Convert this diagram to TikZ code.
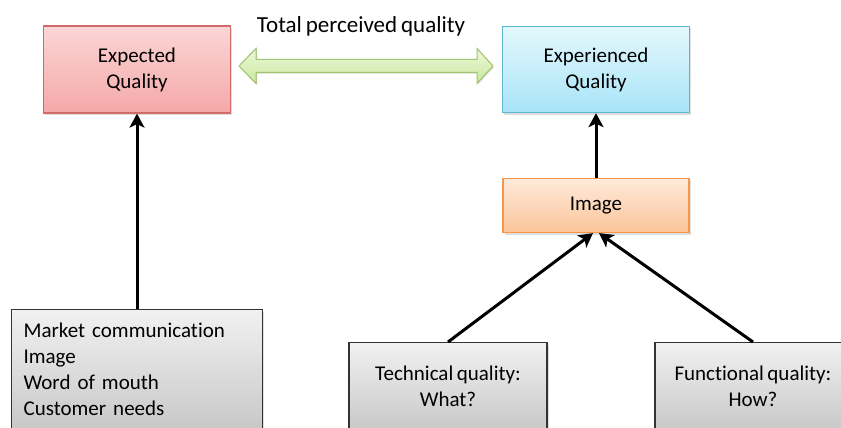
\documentclass[tikz,border=0pt]{standalone}
\usepackage{fontspec}
\setmainfont{Carlito}[Ligatures={NoCommon}, WordSpace=0.75]
\usetikzlibrary{shadows,arrows.meta}
\definecolor{redtop}{HTML}{FBD6D6}
\definecolor{redbot}{HTML}{F5A8A8}
\definecolor{redline}{HTML}{D26A6A}
\definecolor{bluetop}{HTML}{E4F8FD}
\definecolor{bluebot}{HTML}{A8E4F7}
\definecolor{blueline}{HTML}{5DB6D2}
\definecolor{orgtop}{HTML}{FEEADC}
\definecolor{orgbot}{HTML}{FBC598}
\definecolor{orgline}{HTML}{F4974A}
\definecolor{graytop}{HTML}{F1F1F1}
\definecolor{graybot}{HTML}{C8C8C8}
\definecolor{grayline}{HTML}{333333}
\definecolor{grntop}{HTML}{EEF8DC}
\definecolor{grnbot}{HTML}{C8E89C}
\definecolor{grnline}{HTML}{A2C46C}
\begin{document}
\begin{tikzpicture}[x=1pt,y=-1pt,
  txt/.style={font=\fontsize{21}{26}\selectfont},
  box/.style={txt, draw, line width=1.2pt, inner sep=0pt, align=center,
    drop shadow={shadow xshift=1.5pt, shadow yshift=-2pt, opacity=0.25}},
  redbox/.style={box, draw=redline, top color=redtop, bottom color=redbot},
  bluebox/.style={box, draw=blueline, top color=bluetop, bottom color=bluebot},
  orgbox/.style={box, draw=orgline, top color=orgtop, bottom color=orgbot},
  graybox/.style={box, draw=grayline, top color=graytop, bottom color=graybot},
  arr/.style={-{Stealth[length=14pt,width=15pt,inset=3.5pt]}, line width=3pt, black}
]
\useasboundingbox (0,0) rectangle (841,428);
\clip (0,0) rectangle (841,428);

\node[redbox, minimum width=187pt, minimum height=87pt] (exp) at (137,69.5) {Expected\\Quality};
\node[bluebox, minimum width=187pt, minimum height=86pt] (expd) at (596,69.5) {Experienced\\Quality};
\node[orgbox, minimum width=186pt, minimum height=54pt] (img) at (596,205.5) {Image};

\node[graybox, anchor=north west, minimum width=251pt, minimum height=120pt,
  text width=227pt, align=left, inner xsep=12pt] (mkt) at (11,309)
  {Market communication\\Image\\Word of mouth\\Customer needs};
\node[graybox, anchor=north, minimum width=198pt, minimum height=88pt] (tech) at (448,342)
  {Technical quality:\\What?};
\node[graybox, anchor=north, minimum width=196pt, minimum height=88pt] (func) at (753,342)
  {Functional quality:\\How?};

\node[font=\fontsize{23}{26}\selectfont] (tpq) at (361,26) {Total perceived quality};
\coordinate (dl) at (239,66);
\coordinate (dr) at (493,66);
\filldraw[draw=grnline, line width=1pt, top color=grntop, bottom color=grnbot,
  drop shadow={shadow xshift=1pt, shadow yshift=-1.5pt, opacity=0.2}]
  (dl) -- (256,48.5) -- (256,59.5) -- (477,59.5) -- (477,48.5) -- (dr)
  -- (477,83.5) -- (477,72.5) -- (256,72.5) -- (256,83.5) -- cycle;

\draw[arr] (mkt.north -| exp.south) -- (exp.south);
\draw[arr] (img.north) -- (expd.south);
\draw[arr] (tech.north) -- ([xshift=-3pt]img.south);
\draw[arr] (func.north) -- ([xshift=3pt]img.south);
\end{tikzpicture}
\end{document}
